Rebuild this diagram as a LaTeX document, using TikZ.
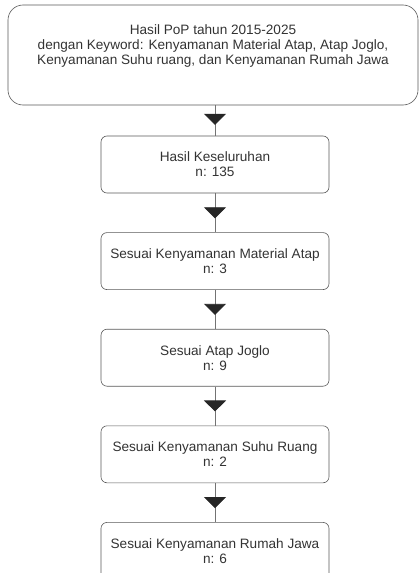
\documentclass[tikz,border=0pt]{standalone}
\usepackage{fontspec}
\setmainfont{Liberation Sans}
\usetikzlibrary{positioning,arrows.meta,decorations.markings}

\begin{document}
\begin{tikzpicture}[x=1pt,y=1pt,
	box/.style={draw=black!65,line width=0.6pt,rounded corners=6pt,minimum width=228pt,minimum height=57pt,align=center,text=black!80,font=\fontsize{13.6}{15}\selectfont},
	flow/.style={draw=black!55,line width=0.8pt,postaction={decorate},
		decoration={markings,mark=at position 0.64 with {\arrow{Triangle[width=22pt,length=11pt,color=black!85]}}}}]
	\clip (0,0) rectangle (419,-573);
	\node[box,minimum width=410pt,minimum height=100pt,rounded corners=15pt] (pop) at (213,-55) {Hasil PoP tahun 2015-2025\\dengan Keyword: Kenyamanan Material Atap, Atap Joglo,\\Kenyamanan Suhu ruang, dan Kenyamanan Rumah Jawa\\[6pt]};
	\node[box] (total) at (215,-164.5) {Hasil Keseluruhan\\n: 135};
	\node[box,below=39pt of total] (material) {Sesuai Kenyamanan Material Atap\\n: 3};
	\node[box,below=39pt of material] (joglo) {Sesuai Atap Joglo\\n: 9};
	\node[box,below=39pt of joglo] (suhu) {Sesuai Kenyamanan Suhu Ruang\\n: 2};
	\node[box,below=39pt of suhu] (rumah) {Sesuai Kenyamanan Rumah Jawa\\n: 6};
	% alur seleksi
	\draw[flow] (pop.south -| total.north) -- (total.north);
	\draw[flow] (total) -- (material);
	\draw[flow] (material) -- (joglo);
	\draw[flow] (joglo) -- (suhu);
	\draw[flow] (suhu) -- (rumah);
\end{tikzpicture}
\end{document}
